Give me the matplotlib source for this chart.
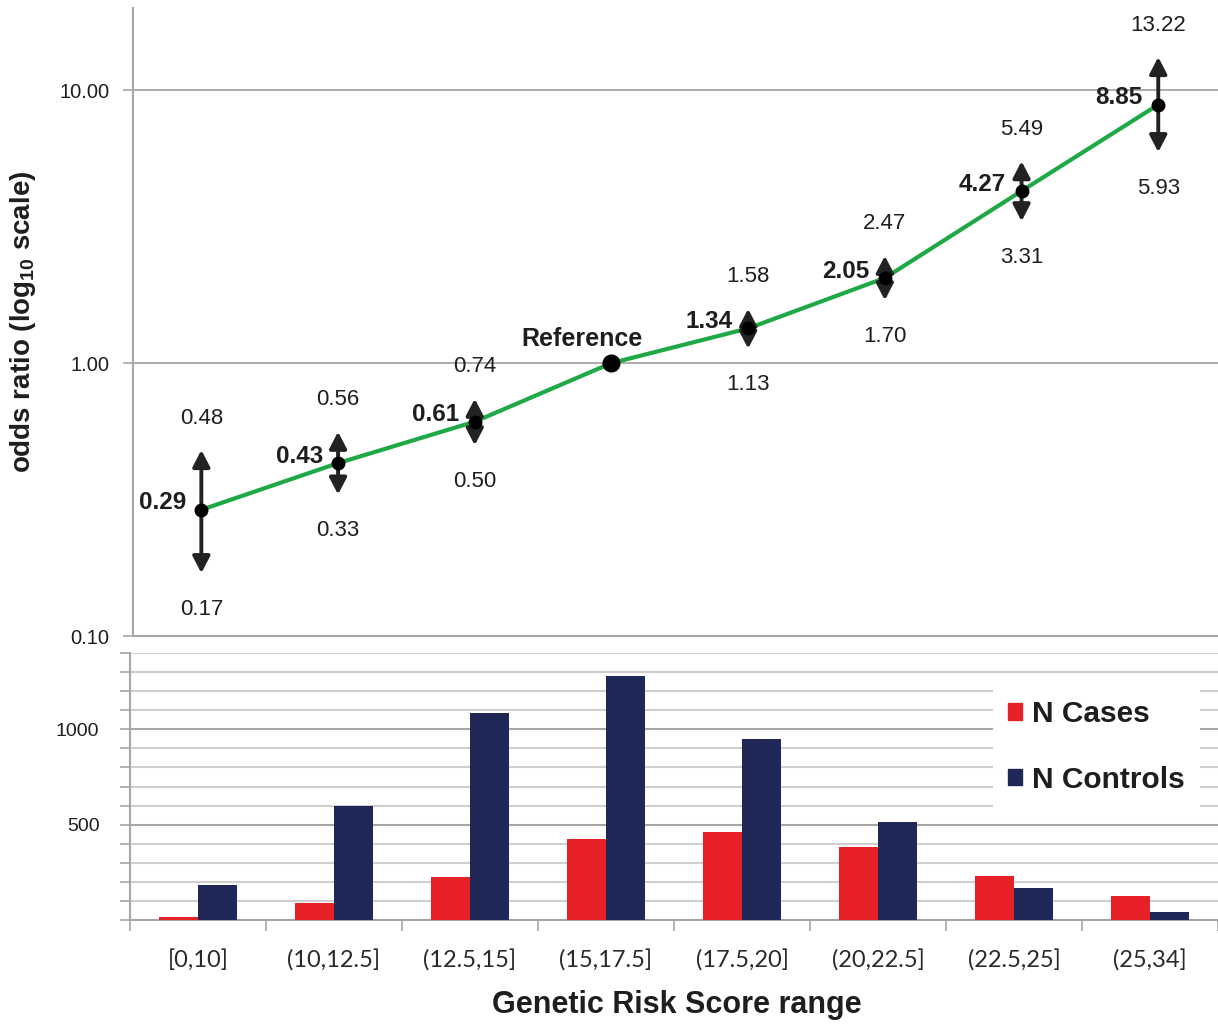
import numpy as np
import matplotlib.pyplot as plt
from matplotlib.patches import Patch

plt.rcParams["font.family"] = ["Liberation Sans", "DejaVu Sans"]

score_ranges = ["[0,10]", "(10,12.5]", "(12.5,15]", "(15,17.5]",
                "(17.5,20]", "(20,22.5]", "(22.5,25]", "(25,34]"]
odds_ratio = [0.29, 0.43, 0.61, 1.00, 1.34, 2.05, 4.27, 8.85]
ci_lower = [0.17, 0.33, 0.50, None, 1.13, 1.70, 3.31, 5.93]
ci_upper = [0.48, 0.56, 0.74, None, 1.58, 2.47, 5.49, 13.22]
reference_idx = 3

n_cases = [18, 88, 226, 425, 462, 383, 231, 128]
n_controls = [182, 598, 1087, 1281, 950, 514, 168, 42]

GREEN = "#1fa846"
RED = "#e82128"
NAVY = "#1f2756"
GRID = "#a6a6a6"
GRID_LIGHT = "#cfcfcf"
INK = "#1e1e1e"

W_PX, H_PX = 1218, 1025
STEP_PX = 136.7  # width of one category in pixels


def axes_rect(left_px, top_px, bottom_px):
    return [left_px / W_PX, 1 - bottom_px / H_PX,
            1 - left_px / W_PX, (bottom_px - top_px) / H_PX]


def plot_odds(ax):
    x = np.arange(len(odds_ratio))
    ax.set_yscale("log")
    ax.set_ylim(0.1, 20)
    ax.set_xlim(-0.5, -0.5 + (W_PX - 133) / STEP_PX)

    ax.set_yticks([0.1, 1, 10])
    ax.set_yticklabels(["0.10", "1.00", "10.00"], fontsize=14.5, color=INK)
    ax.yaxis.set_minor_locator(plt.NullLocator())
    ax.tick_params(axis="y", length=7, width=1.2, color=GRID, pad=10)
    ax.set_xticks([])
    ax.grid(axis="y", color=GRID, lw=1.3)
    ax.set_axisbelow(True)
    for side in ["top", "right"]:
        ax.spines[side].set_visible(False)
    for side in ["left", "bottom"]:
        ax.spines[side].set_color(GRID)
        ax.spines[side].set_linewidth(1.5)

    ax.plot(x, odds_ratio, color=GREEN, lw=3, zorder=2)

    for i, (xi, orv, lo, up) in enumerate(zip(x, odds_ratio, ci_lower, ci_upper)):
        if i == reference_idx:
            ax.plot(xi, orv, "o", color="black", ms=12, zorder=4)
            ax.annotate("Reference", (xi, orv), xytext=(-21, 17),
                        textcoords="offset points", ha="center", va="center",
                        fontsize=18, fontweight="bold", color=INK)
            continue
        ax.annotate("", xy=(xi, up), xytext=(xi, lo),
                    arrowprops=dict(arrowstyle="<|-|>,head_length=0.5,head_width=0.26",
                                    mutation_scale=20, lw=2.8, color="#222222",
                                    shrinkA=0, shrinkB=0), zorder=3)
        ax.plot(xi, orv, "o", color="black", ms=9, zorder=4)
        ax.annotate(f"{orv:.2f}", (xi, orv), xytext=(-11, 5),
                    textcoords="offset points", ha="right", va="center",
                    fontsize=17.5, fontweight="bold", color=INK)
        ax.annotate(f"{up:.2f}", (xi, up), xytext=(0, 23),
                    textcoords="offset points", ha="center", va="center",
                    fontsize=16, color=INK)
        ax.annotate(f"{lo:.2f}", (xi, lo), xytext=(0, -26),
                    textcoords="offset points", ha="center", va="center",
                    fontsize=16, color=INK)

    ax.set_ylabel("odds ratio (log$_{\\mathregular{10}}$ scale)",
                  fontsize=20, fontweight="bold", color=INK)
    ax.yaxis.set_label_coords(-0.088, 0.5)


def plot_counts(ax):
    x = np.arange(len(score_ranges))
    bar_w = 0.29
    ax.bar(x - bar_w / 2, n_cases, bar_w, color=RED, zorder=3)
    ax.bar(x + bar_w / 2, n_controls, bar_w, color=NAVY, zorder=3)

    ax.set_ylim(0, 1400)
    ax.set_xlim(-0.5, -0.5 + (W_PX - 130) / STEP_PX)

    ax.set_yticks([500, 1000])
    ax.set_yticklabels(["500", "1000"], fontsize=14, color=INK)
    ax.set_yticks(np.arange(0, 1401, 100), minor=True)
    ax.tick_params(axis="y", which="both", length=7, width=1.2, color=GRID, pad=15)
    ax.grid(axis="y", which="minor", color=GRID_LIGHT, lw=1.5, zorder=0)
    ax.grid(axis="y", which="major", color=GRID, lw=1.5, zorder=0)
    ax.set_axisbelow(True)

    # boundaries get the tick marks, centres get the labels
    ax.set_xticks(np.arange(-0.5, len(score_ranges)), labels=[])
    ax.set_xticks(x, labels=score_ranges, minor=True)
    ax.tick_params(axis="x", which="major", length=8, width=1.2, color=GRID)
    ax.tick_params(axis="x", which="minor", length=0, pad=21)
    for lab in ax.get_xticklabels(minor=True):
        lab.set_fontfamily(["Lato", "DejaVu Sans"])
        lab.set_fontsize(17)
        lab.set_color("#2a2a2a")

    for side in ["top", "right"]:
        ax.spines[side].set_visible(False)
    for side in ["left", "bottom"]:
        ax.spines[side].set_color(GRID)
        ax.spines[side].set_linewidth(1.5)

    ax.set_xlabel("Genetic Risk Score range", fontsize=22, fontweight="bold",
                  color=INK)
    ax.xaxis.set_label_coords(0.503, -0.262)

    handles = [Patch(color=RED, label="N Cases"),
               Patch(color=NAVY, label="N Controls")]
    leg = ax.legend(handles=handles, loc="upper left",
                    bbox_to_anchor=(0.793, 0.88), borderaxespad=0,
                    frameon=True, fancybox=False,
                    edgecolor="none", facecolor="white", framealpha=1,
                    handlelength=0.47, handleheight=0.47, handletextpad=0.35,
                    labelspacing=1.27, borderpad=0.5,
                    prop={"weight": "bold", "size": 21.5})
    for t in leg.get_texts():
        t.set_color(INK)


fig = plt.figure(figsize=(W_PX / 100, H_PX / 100), dpi=100)
ax_or = fig.add_axes(axes_rect(133, 8, 636))
ax_n = fig.add_axes(axes_rect(130, 653, 920))

plot_odds(ax_or)
plot_counts(ax_n)

fig.savefig("out.png", dpi=100)
